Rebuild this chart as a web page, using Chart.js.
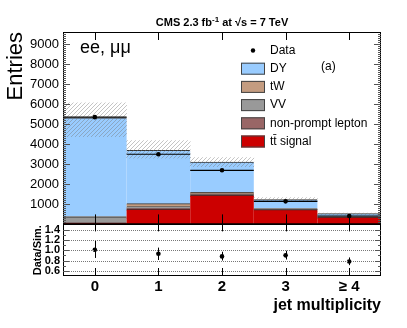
<!DOCTYPE html>
<html>
<head>
<meta charset="utf-8">
<script src="https://cdn.jsdelivr.net/npm/chart.js@4"></script>
<style>body{margin:0;background:#fff}</style>
</head>
<body>
<canvas id="mychart" width="407" height="328"></canvas>
<script>
// jet multiplicity bins
const jetBins = ['0', '1', '2', '3', '\u2265 4'];

// simulation, stacked bottom -> top
const ttbarSig = [50, 750, 1450, 720, 350];
const nonPrompt = [30, 40, 30, 10, 5];
const vvBkg = [280, 90, 30, 10, 5];
const twBkg = [20, 150, 80, 40, 20];
const dyBkg = [4920, 2650, 1500, 450, 140];

// data + uncertainty band
const dataCounts = [5350, 3500, 2700, 1150, 420];
const systLow = [4380, 3300, 2880, 1130, 470];
const systHigh = [6070, 4180, 3330, 1340, 560];

// ratio panel
const ratioVals = [1.01, 0.93, 0.88, 0.90, 0.78];
const ratioLow = [0.85, 0.81, 0.80, 0.82, 0.71];
const ratioHigh = [1.18, 1.05, 0.97, 0.99, 0.86];

const yTicks = [1000, 2000, 3000, 4000, 5000, 6000, 7000, 8000, 9000];
const ratioTicks = [0.6, 0.8, 1, 1.2, 1.4];

const FONT = "'Liberation Sans', Arial, sans-serif";

// hatch for the uncertainty band
const tile = document.createElement('canvas');
tile.width = 4; tile.height = 4;
const tc = tile.getContext('2d');
tc.strokeStyle = 'rgba(120,120,120,0.55)';
tc.lineWidth = 0.8;
tc.beginPath();
tc.moveTo(0, 4); tc.lineTo(4, 0);
tc.moveTo(-1, 1); tc.lineTo(1, -1);
tc.moveTo(3, 5); tc.lineTo(5, 3);
tc.stroke();
const hatch = tc.createPattern(tile, 'repeat');

function mc(label, vals, color) {
    return {
        label: label, data: vals, stack: 'mc', yAxisID: 'y', backgroundColor: color,
        borderColor: '#333', borderWidth: {top: 1, left: 0, right: 0, bottom: 0},
        borderSkipped: 'start', barPercentage: 1, categoryPercentage: 1, grouped: false,
        inflateAmount: 0.6
    };
}

const legendRows = [
    {text: 'Data', dot: true},
    {text: 'DY', color: '#99ccff'},
    {text: 'tW', color: '#c49c80'},
    {text: 'VV', color: '#999999'},
    {text: 'non-prompt lepton', color: '#996666'},
    {text: 't\u0074\u0304 signal', color: '#cc0000'}
];

const decor = {
    id: 'decor',
    afterDatasetsDraw(chart) {
        const c = chart.ctx, x = chart.scales.x, y = chart.scales.y, yr = chart.scales.yr;
        const L = chart.chartArea.left, R = chart.chartArea.right;
        const w = x.getPixelForValue(1) - x.getPixelForValue(0);
        c.save();

        // data: horizontal bin-width bars
        c.strokeStyle = '#000'; c.lineWidth = 1.2;
        dataCounts.forEach((v, i) => {
            const px = x.getPixelForValue(i), py = y.getPixelForValue(v);
            c.beginPath(); c.moveTo(px - w / 2, py); c.lineTo(px + w / 2, py); c.stroke();
        });

        // ratio dotted grid
        c.strokeStyle = '#777'; c.lineWidth = 1; c.setLineDash([1, 1]);
        ratioTicks.forEach(v => {
            const py = Math.round(yr.getPixelForValue(v)) + 0.5;
            c.beginPath(); c.moveTo(L, py); c.lineTo(R, py); c.stroke();
        });
        c.setLineDash([]);

        // ratio error bars
        c.strokeStyle = '#000'; c.lineWidth = 1;
        ratioVals.forEach((v, i) => {
            const px = Math.round(x.getPixelForValue(i)) + 0.5;
            c.beginPath();
            c.moveTo(px, yr.getPixelForValue(ratioLow[i]));
            c.lineTo(px, yr.getPixelForValue(ratioHigh[i]));
            c.stroke();
        });

        // frames
        c.lineWidth = 1; c.strokeStyle = '#000';
        c.strokeRect(L + 0.5, Math.round(y.top) + 0.5, R - L - 1, Math.round(y.bottom) - Math.round(y.top));
        c.strokeRect(L + 0.5, Math.round(yr.top) + 0.5, R - L - 1, Math.round(yr.bottom) - Math.round(yr.top) - 1);
        c.lineWidth = 1.5;
        c.beginPath(); c.moveTo(L, Math.round(y.bottom)); c.lineTo(R, Math.round(y.bottom)); c.stroke();

        // y ticks main, inward, both sides
        c.lineWidth = 1; c.strokeStyle = '#555';
        for (let v = 100; v < 9600; v += 100) {
            const py = Math.round(y.getPixelForValue(v)) + 0.5;
            const len = v % 1000 === 0 ? 7 : 3;
            c.beginPath();
            c.moveTo(L, py); c.lineTo(L + len, py);
            c.moveTo(R, py); c.lineTo(R - len, py);
            c.stroke();
        }
        // ratio ticks
        for (let v = 0.6; v < 1.45; v += 0.1) {
            const py = Math.round(yr.getPixelForValue(v)) + 0.5;
            const len = Math.abs(v * 5 - Math.round(v * 5)) < 0.01 ? 6 : 3;
            c.beginPath();
            c.moveTo(L, py); c.lineTo(L + len, py);
            c.moveTo(R, py); c.lineTo(R - len, py);
            c.stroke();
        }
        // x ticks at bin centres
        c.strokeStyle = '#000';
        jetBins.forEach((b, i) => {
            const px = Math.round(x.getPixelForValue(i)) + 0.5;
            c.beginPath();
            c.moveTo(px, y.top); c.lineTo(px, y.top + 8);
            c.moveTo(px, y.bottom); c.lineTo(px, y.bottom - 10);
            c.moveTo(px, yr.top); c.lineTo(px, yr.top + 7);
            c.moveTo(px, yr.bottom); c.lineTo(px, yr.bottom - 8);
            c.stroke();
        });

        // title
        c.fillStyle = '#000';
        c.textBaseline = 'alphabetic';
        const big = 'bold 11px ' + FONT, sup = 'bold 8px ' + FONT;
        const parts = [['CMS 2.3 fb', big, 0], ['-1', sup, -4], [' at ', big, 0], ['\u221As = 7 TeV', big, 0]];
        let tw = 0;
        parts.forEach(p => { c.font = p[1]; tw += c.measureText(p[0]).width; });
        let tx = (L + R) / 2 - tw / 2;
        parts.forEach(p => {
            c.font = p[1]; c.textAlign = 'left';
            c.fillText(p[0], tx, 26 + p[2]);
            tx += c.measureText(p[0]).width;
        });

        c.font = '18px ' + FONT;
        c.textBaseline = 'middle';
        c.fillText('ee, \u03BC\u03BC', 80, 48);
        c.font = '12px ' + FONT;
        c.fillText('(a)', 321, 67);

        // legend
        legendRows.forEach((r, i) => {
            const cy = 50.5 + i * 18.2;
            if (r.dot) {
                c.beginPath(); c.arc(253, cy, 2.2, 0, Math.PI * 2); c.fill();
            } else {
                c.fillStyle = r.color; c.fillRect(241, cy - 6, 24, 12);
                c.strokeStyle = '#444'; c.lineWidth = 1; c.strokeRect(241.5, cy - 5.5, 23, 11);
                c.fillStyle = '#000';
            }
            c.font = '12px ' + FONT;
            c.fillText(r.text, 270, cy);
        });
        c.restore();
    }
};

new Chart(document.getElementById('mychart').getContext('2d'), {
    type: 'bar',
    data: {
        labels: jetBins,
        datasets: [
            {type: 'line', label: 'Data', data: dataCounts, yAxisID: 'y', stack: 'data', showLine: false,
             pointRadius: 2.3, pointBackgroundColor: '#000', pointBorderWidth: 0, order: -2},
            {label: 'syst', data: systLow.map((v, i) => [v, systHigh[i]]), yAxisID: 'y', stack: 'band', grouped: false,
             backgroundColor: hatch, borderWidth: 0, barPercentage: 1, categoryPercentage: 1, order: -1},
            mc('t\u0074\u0304 signal', ttbarSig, '#cc0000'),
            mc('non-prompt lepton', nonPrompt, '#996666'),
            mc('VV', vvBkg, '#999999'),
            mc('tW', twBkg, '#c49c80'),
            mc('DY', dyBkg, '#99ccff'),
            {type: 'line', label: 'ratio', yAxisID: 'yr', data: ratioVals, showLine: false,
             pointRadius: 2.3, pointBackgroundColor: '#000', pointBorderWidth: 0, order: -2}
        ]
    },
    options: {
        responsive: false,
        animation: false,
        devicePixelRatio: 1,
        layout: {padding: {top: 32, right: 26, left: 0, bottom: 0}},
        plugins: {legend: {display: false}, tooltip: {enabled: false}, title: {display: false}},
        scales: {
            x: {
                type: 'category', offset: true,
                grid: {display: false, drawTicks: false}, border: {display: false},
                ticks: {color: '#000', padding: 2, maxRotation: 0, font: {family: FONT, size: 15, weight: 'bold'}},
                title: {display: true, text: 'jet multiplicity', align: 'end', color: '#000',
                        font: {family: FONT, size: 16, weight: 'bold'}, padding: {top: 0, bottom: 13}},
                afterFit: s => { s.height = 52; }
            },
            yr: {
                stack: 'panels', stackWeight: 51.5, position: 'left',
                min: 0.5, max: 1.5,
                grid: {display: false, drawTicks: false}, border: {display: false},
                afterBuildTicks: s => { s.ticks = ratioTicks.map(v => ({value: v})); },
                ticks: {color: '#000', padding: 3, autoSkip: false, font: {family: FONT, size: 11, weight: 'bold'}},
                title: {display: true, text: 'Data/Sim.', align: 'center', color: '#000',
                        font: {family: FONT, size: 11, weight: 'bold'}, padding: {top: 31, bottom: 0}},
                afterFit: s => { s.width = 63; }
            },
            y: {
                stack: 'panels', stackWeight: 192, stacked: true, position: 'left',
                min: 0, max: 9600,
                grid: {display: false, drawTicks: false}, border: {display: false},
                afterBuildTicks: s => { s.ticks = yTicks.map(v => ({value: v})); },
                ticks: {color: '#000', padding: 4, autoSkip: false, font: {family: FONT, size: 13}, callback: v => String(v)},
                title: {display: true, text: 'Entries', align: 'end', color: '#000',
                        font: {family: FONT, size: 22}, padding: {top: 3, bottom: 0}},
                afterFit: s => { s.width = 63; }
            }
        }
    },
    plugins: [decor]
});
</script>
</body>
</html>
